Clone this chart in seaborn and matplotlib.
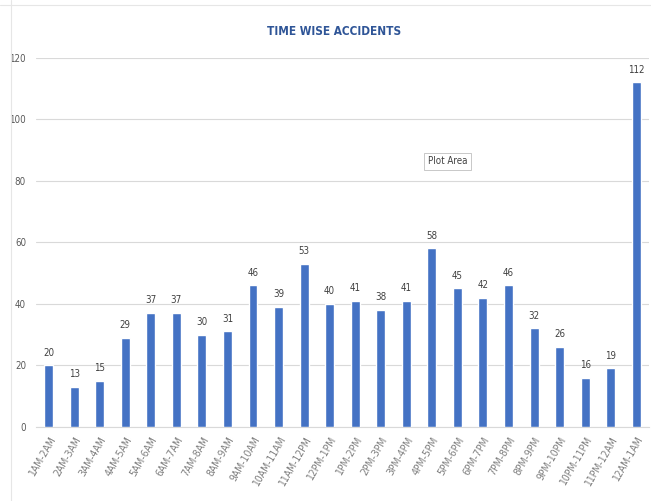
import matplotlib
matplotlib.use("Agg")
import matplotlib.pyplot as plt
import seaborn as sns
import pandas as pd

# data
slots = ['1AM-2AM', '2AM-3AM', '3AM-4AM', '4AM-5AM', '5AM-6AM', '6AM-7AM',
         '7AM-8AM', '8AM-9AM', '9AM-10AM', '10AM-11AM', '11AM-12PM', '12PM-1PM',
         '1PM-2PM', '2PM-3PM', '3PM-4PM', '4PM-5PM', '5PM-6PM', '6PM-7PM',
         '7PM-8PM', '8PM-9PM', '9PM-10PM', '10PM-11PM', '11PM-12AM', '12AM-1AM']
accidents = [20, 13, 15, 29, 37, 37, 30, 31, 46, 39, 53, 40,
             41, 38, 41, 58, 45, 42, 46, 32, 26, 16, 19, 112]
y_ticks = [0, 20, 40, 60, 80, 100, 120]

df = pd.DataFrame({'slot': slots, 'count': accidents})

sns.set_style("white")
plt.rcParams['font.family'] = ['DejaVu Sans']
plt.rcParams['font.stretch'] = 'condensed'

fig = plt.figure(figsize=(6.51, 5.01), dpi=100)
ax = fig.add_axes([0.055, 0.148, 0.942, 0.737])

sns.barplot(data=df, x='slot', y='count', color='#4472C4', width=0.35,
            saturation=1, ax=ax, zorder=3)

ax.set_ylim(0, 120)
ax.set_xlim(-0.5, len(slots) - 0.5)
ax.set_yticks(y_ticks)
ax.set_yticklabels([str(t) for t in y_ticks], fontsize=7, color='#595959')
ax.yaxis.grid(True, color='#D9D9D9', linewidth=0.8, zorder=0)
ax.set_xlabel('')
ax.set_ylabel('')
for s in ['top', 'right', 'left']:
    ax.spines[s].set_visible(False)
ax.spines['bottom'].set_color('#D9D9D9')
ax.tick_params(axis='y', length=0, pad=7)
ax.tick_params(axis='x', length=0, pad=6)
ax.set_xticks(range(len(slots)))
ax.set_xticklabels(slots, rotation=60, ha='right', rotation_mode='anchor',
                   fontsize=7.5, color='#7F7F7F')

for i, v in enumerate(accidents):
    ax.text(i, v + 2.5, str(v), ha='center', va='bottom', fontsize=7,
            color='#404040')

fig.text(0.513, 0.937, 'TIME WISE ACCIDENTS', ha='center', va='center',
         fontsize=8.5, fontweight='bold', color='#2F5597')

# "Plot Area" tooltip
fig.text(0.657, 0.678, 'Plot Area', ha='left', va='center', fontsize=7,
         color='#404040',
         bbox=dict(boxstyle='square,pad=0.35', facecolor='white',
                   edgecolor='#BFBFBF', linewidth=0.6))

# faint sheet border lines
fig.add_artist(plt.Line2D([0.017, 0.017], [0, 1], color='#E6E6E6', linewidth=0.8))
fig.add_artist(plt.Line2D([0, 1], [0.99, 0.99], color='#E6E6E6', linewidth=0.8))

fig.savefig('out.png', dpi=100)
